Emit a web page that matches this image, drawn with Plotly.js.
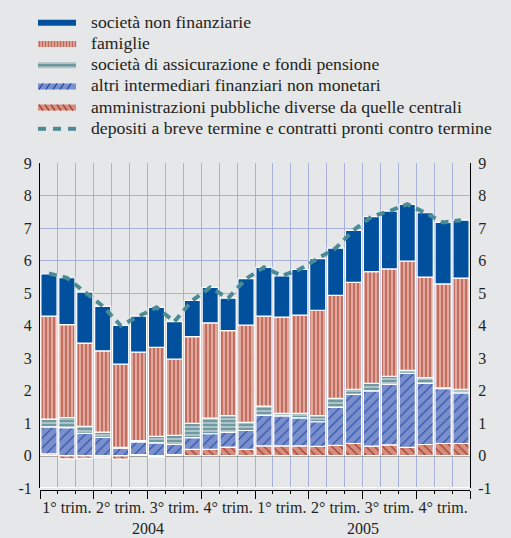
<!DOCTYPE html>
<html>
<head>
<meta charset="utf-8">
<script src="https://cdn.plot.ly/plotly-3.0.1.min.js"></script>
<style>html,body{margin:0;padding:0;background:#e6e7e9;}</style>
</head>
<body>
<div id="chart" style="width:511px;height:538px;"></div>
<script>
// ---- data ----
const months = ["gen 2004","feb 2004","mar 2004","apr 2004","mag 2004","giu 2004","lug 2004","ago 2004","set 2004","ott 2004","nov 2004","dic 2004",
                "gen 2005","feb 2005","mar 2005","apr 2005","mag 2005","giu 2005","lug 2005","ago 2005","set 2005","ott 2005","nov 2005","dic 2005"];
const societaNonFinanziarie = [1.30,1.44,1.57,1.37,1.19,1.11,1.23,1.15,1.11,1.09,1.00,1.43,1.50,1.27,1.41,1.59,1.45,1.60,1.69,1.78,1.75,1.98,1.89,1.78];
const famiglie              = [3.17,2.86,2.56,2.50,2.56,2.72,2.74,2.35,2.67,2.93,2.61,2.99,2.77,2.96,3.02,3.24,3.17,3.29,3.44,3.30,3.36,3.09,3.20,3.42];
const assicurazioni         = [0.24,0.31,0.22,0.16,0.02,0.04,0.20,0.28,0.44,0.48,0.52,0.25,0.28,0.08,0.14,0.19,0.28,0.16,0.23,0.25,0.09,0.18,0.02,0.11];
const altriIntermediari     = [0.83,0.86,0.68,0.56,0.23,0.39,0.39,0.31,0.36,0.48,0.45,0.58,0.94,0.92,0.86,0.76,1.17,1.51,1.70,1.86,2.28,1.88,1.69,1.56];
const amministrazioni       = [0.05,-0.10,-0.09,-0.05,-0.11,0.03,-0.04,0.03,0.19,0.19,0.26,0.19,0.30,0.30,0.30,0.28,0.31,0.37,0.29,0.33,0.25,0.34,0.37,0.37];
const depositi              = [5.60,5.47,5.03,4.60,4.00,4.28,4.56,4.12,4.77,5.17,4.84,5.44,5.79,5.53,5.73,6.06,6.38,6.93,7.35,7.52,7.73,7.47,7.17,7.24];

const seriesNames = ["società non finanziarie","famiglie","società di assicurazione e fondi pensione",
                     "altri intermediari finanziari non monetari","amministrazioni pubbliche diverse da quelle centrali",
                     "depositi a breve termine e contratti pronti contro termine"];
const yTickVals = [-1,0,1,2,3,4,5,6,7,8,9];
const yTickText = ["-1","0","1","2","3","4","5","6","7","8","9"];
const quarterPos = [1,4,7,10,13,16,19,22];
const quarterLabels = ["1° trim.","2° trim.","3° trim.","4° trim.","1° trim.","2° trim.","3° trim.","4° trim."];
const quarterBounds = [-0.5,2.5,5.5,8.5,11.5,14.5,17.5,20.5,23.5];
const yearPos = [5.5,17.5];
const yearLabels = ["2004","2005"];

// ---- styling ----
const FONT = "'Liberation Serif', 'Times New Roman', serif";
const BG = "#e6e7e9";
const GRID = "#a7b1da";
const TXT = "#231f20";
const C = {
  snf:"#00509d",
  famBg:"#e0a99d", famFg:"#c1665a",
  assBg:"#aec3c8", assFg:"#5f8f98",
  altBg:"#7a8fcc", altFg:"#1f4ca8",
  ammBg:"#d68e7f", ammFg:"#a33b2c",
  dep:"#4b8b95"
};
const outline = {color:"#ffffff", width:1.2};

// page geometry (pixels) for the hand-drawn legend
const W = 511, H = 538, ML = 40, MR = 41, MT = 163, MB = 44;
const PW = W - ML - MR, PH = H - MT - MB;
const px2x = p => (p - ML) / PW;
const px2y = p => (H - MB - p) / PH;

function bar(y, name, bg, pattern) {
  const m = {color: bg, line: outline};
  if (pattern) m.pattern = Object.assign({bgcolor: bg, fillmode:"replace"}, pattern);
  return {type:"bar", x: months, y: y, name: name, showlegend:false, marker: m, hoverinfo:"y+name"};
}

const traces = [
  bar(amministrazioni, seriesNames[4], C.ammBg, {shape:"\\", fgcolor:C.ammFg, size:6, solidity:0.2}),
  bar(altriIntermediari, seriesNames[3], C.altBg, {shape:"/", fgcolor:C.altFg, size:7, solidity:0.15}),
  bar(assicurazioni, seriesNames[2], C.assBg, {shape:"-", fgcolor:C.assFg, size:4, solidity:0.4}),
  bar(famiglie, seriesNames[1], C.famBg, {shape:"|", fgcolor:C.famFg, size:4, solidity:0.45}),
  bar(societaNonFinanziarie, seriesNames[0], C.snf, null),
  {type:"scatter", mode:"lines", x: months, y: depositi, name: seriesNames[5], showlegend:false,
   line:{color:C.dep, width:4, dash:"8px,6px"}},
  {type:"scatter", mode:"markers", x:[null], y:[null], xaxis:"x2", yaxis:"y2", showlegend:false, hoverinfo:"skip"}
];

// ---- hand-drawn legend (swatches + labels) ----
const LX0 = 38, LX1 = 76, LTEXT = 89, ROW0 = 21.8, ROWH = 21.2, SWH = 6;
const shapes = [];
const annotations = [];
function rect(x0, x1, y0, y1, fill) {
  shapes.push({type:"rect", xref:"paper", yref:"paper", x0:px2x(x0), x1:px2x(x1), y0:px2y(y1), y1:px2y(y0),
               fillcolor:fill, line:{width:0}});
}
function seg(x0, y0, x1, y1, color, w) {
  shapes.push({type:"line", xref:"paper", yref:"paper", x0:px2x(x0), x1:px2x(x1), y0:px2y(y0), y1:px2y(y1),
               line:{color:color, width:w}});
}
seriesNames.forEach((name, i) => {
  const cy = ROW0 + ROWH * i + 1;
  const t = cy - SWH / 2, b = cy + SWH / 2;
  if (i === 0) rect(LX0, LX1, t, b, C.snf);
  if (i === 1) { rect(LX0, LX1, t, b, C.famBg); for (let x = LX0 + 1.5; x < LX1; x += 3) seg(x, t, x, b, C.famFg, 1.3); }
  if (i === 2) { rect(LX0, LX1, t, b, C.assBg); seg(LX0, cy, LX1, cy, C.assFg, 2); }
  if (i === 3) { rect(LX0, LX1, t, b, C.altBg); for (let x = LX0 + 1; x + 4 <= LX1; x += 7) seg(x, b, x + 4, t, C.altFg, 1.2); }
  if (i === 4) { rect(LX0, LX1, t, b, C.ammBg); for (let x = LX0 + 1; x + 4 <= LX1; x += 6) seg(x, t, x + 4, b, C.ammFg, 1.2); }
  if (i === 5) { for (let k = 0; k < 3; k++) seg(LX0 + k * 15, cy, LX0 + k * 15 + 8, cy, C.dep, 4); }
  annotations.push({text:name, xref:"paper", yref:"paper", x:px2x(LTEXT), y:px2y(ROW0 + ROWH * i),
                    xanchor:"left", yanchor:"middle", showarrow:false,
                    font:{family:FONT, size:17.7, color:TXT}});
});
shapes.push({type:"line", xref:"paper", yref:"y", x0:0, x1:1, y0:-1, y1:-1, line:{color:"#ffffff", width:2}});
yearLabels.forEach((t, i) => annotations.push({text:t, x:yearPos[i], xref:"x2", y:px2y(528), yref:"paper",
      yanchor:"middle", showarrow:false, font:{family:FONT, size:16, color:TXT}}));

const layout = {
  width: W, height: H,
  margin: {l:ML, r:MR, t:MT, b:MB, pad:0, autoexpand:false},
  paper_bgcolor: BG, plot_bgcolor: BG,
  font: {family: FONT, size: 16, color: TXT},
  barmode: "relative", bargap: 0.1,
  showlegend: false,
  xaxis: {type:"category", range:[-0.5,23.5], anchor:"free", position:0.012,
          showline:true, linecolor:"#000", linewidth:1,
          ticks:"outside", tickson:"boundaries", ticklen:3, tickcolor:"#000",
          showticklabels:false, showgrid:true, gridcolor:GRID, gridwidth:1},
  xaxis2: {overlaying:"x", anchor:"free", position:0.012, type:"linear", range:[-0.5,23.5],
           tickmode:"array", tickvals: quarterPos, ticktext: quarterLabels, ticks:"",
           minor:{tickmode:"array", tickvals: quarterBounds, ticks:"outside", ticklen:8, tickcolor:"#000"},
           showgrid:false, zeroline:false, showline:false, ticklabelstandoff:6,
           tickfont:{family:FONT, size:16, color:TXT}},
  yaxis: {domain:[0.018,1], range:[-1,9], tickmode:"array", tickvals:yTickVals, ticktext:yTickText,
          ticks:"", showline:true, linecolor:"#000", linewidth:1, mirror:false,
          showgrid:true, gridcolor:GRID, gridwidth:1,
          zeroline:true, zerolinecolor:"#8c8c8c", zerolinewidth:2, layer:"below traces",
          tickfont:{family:FONT, size:16, color:TXT}, ticklabelstandoff:4},
  yaxis2: {overlaying:"y", side:"right", anchor:"x", range:[-1,9], tickmode:"array", tickvals:yTickVals, ticktext:yTickText,
           ticks:"", showline:true, linecolor:"#000", linewidth:1, showgrid:false, zeroline:false,
           tickfont:{family:FONT, size:16, color:TXT}, ticklabelstandoff:4},
  shapes: shapes,
  annotations: annotations
};

Plotly.newPlot("chart", traces, layout, {displayModeBar:false, staticPlot:true});
</script>
</body>
</html>
